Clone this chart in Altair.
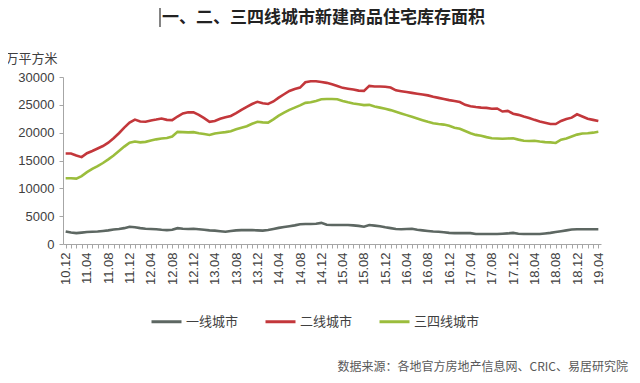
import altair as alt
import pandas as pd

months = [
    "10.12",
    "11.01", "11.02", "11.03", "11.04", "11.05", "11.06", "11.07", "11.08", "11.09", "11.10", "11.11", "11.12",
    "12.01", "12.02", "12.03", "12.04", "12.05", "12.06", "12.07", "12.08", "12.09", "12.10", "12.11", "12.12",
    "13.01", "13.02", "13.03", "13.04", "13.05", "13.06", "13.07", "13.08", "13.09", "13.10", "13.11", "13.12",
    "14.01", "14.02", "14.03", "14.04", "14.05", "14.06", "14.07", "14.08", "14.09", "14.10", "14.11", "14.12",
    "15.01", "15.02", "15.03", "15.04", "15.05", "15.06", "15.07", "15.08", "15.09", "15.10", "15.11", "15.12",
    "16.01", "16.02", "16.03", "16.04", "16.05", "16.06", "16.07", "16.08", "16.09", "16.10", "16.11", "16.12",
    "17.01", "17.02", "17.03", "17.04", "17.05", "17.06", "17.07", "17.08", "17.09", "17.10", "17.11", "17.12",
    "18.01", "18.02", "18.03", "18.04", "18.05", "18.06", "18.07", "18.08", "18.09", "18.10", "18.11", "18.12",
    "19.01", "19.02", "19.03", "19.04",
]

tier1 = [
    2250, 2050, 1950, 2050, 2150, 2200, 2250, 2350, 2450, 2600,
    2700, 2850, 3100, 3000, 2850, 2750, 2700, 2650, 2550, 2500,
    2550, 2850, 2750, 2700, 2750, 2650, 2550, 2450, 2400, 2300,
    2200, 2350, 2450, 2500, 2500, 2500, 2450, 2400, 2500, 2700,
    2900, 3050, 3200, 3350, 3550, 3600, 3600, 3650, 3800, 3450,
    3400, 3400, 3400, 3400, 3350, 3250, 3100, 3400, 3300, 3200,
    3000, 2850, 2700, 2650, 2700, 2750, 2550, 2450, 2350, 2250,
    2200, 2100, 2000, 1950, 1950, 1950, 1950, 1800, 1800, 1800,
    1800, 1800, 1850, 1900, 2000, 1850, 1800, 1800, 1800, 1800,
    1900, 2000, 2150, 2300, 2450, 2600, 2650, 2650, 2650, 2650,
    2650,
]

tier2 = [
    16250, 16250, 15900, 15600, 16300, 16700, 17150, 17600, 18200, 19000,
    19900, 20900, 21800, 22350, 22000, 21950, 22200, 22350, 22550, 22300,
    22250, 22900, 23450, 23650, 23650, 23200, 22600, 21950, 22100, 22500,
    22750, 23000, 23500, 24100, 24650, 25150, 25550, 25300, 25150, 25600,
    26300, 26900, 27500, 27850, 28100, 29050, 29250, 29250, 29100, 28950,
    28700, 28400, 28050, 27900, 27750, 27550, 27500, 28400, 28300, 28300,
    28250, 28100, 27600, 27450, 27300, 27150, 27000, 26850, 26700, 26450,
    26250, 26050, 25850, 25700, 25500, 25000, 24750, 24600, 24500, 24450,
    24300, 24350, 23800, 23900, 23400, 23200, 22900, 22650, 22300, 22000,
    21800, 21550, 21550, 22100, 22450, 22700, 23300, 22900, 22500, 22300,
    22100,
]

tier34 = [
    11800, 11800, 11750, 12200, 12900, 13500, 14000, 14550, 15200, 15900,
    16700, 17500, 18200, 18400, 18250, 18350, 18600, 18800, 18950, 19050,
    19300, 20150, 20100, 20050, 20100, 19900, 19750, 19580, 19850, 20000,
    20100, 20250, 20600, 20900, 21150, 21600, 21950, 21850, 21800, 22400,
    23050, 23600, 24100, 24500, 24900, 25350, 25450, 25700, 26000, 26050,
    26050, 26000, 25700, 25450, 25250, 25100, 24950, 25000, 24700, 24500,
    24300, 24050, 23750, 23450, 23150, 22850, 22550, 22250, 21950, 21700,
    21550, 21450, 21250, 20900, 20700, 20300, 19900, 19600, 19450, 19200,
    19000, 18950, 18900, 18950, 19000, 18750, 18550, 18500, 18550, 18400,
    18300, 18250, 18150, 18750, 18950, 19300, 19650, 19850, 19900, 20000,
    20150,
]

series_names = ["一线城市", "二线城市", "三四线城市"]
series_colors = ["#5d6762", "#c3373b", "#9bbd3c"]
y_ticks = [0, 5000, 10000, 15000, 20000, 25000, 30000]
title_text = "一、二、三四线城市新建商品住宅库存面积"
unit_text = "万平方米"
source_text = "数据来源：各地官方房地产信息网、CRIC、易居研究院"

rows = []
for name, vals in zip(series_names, [tier1, tier2, tier34]):
    for m, v in zip(months, vals):
        rows.append({"month": m, "series": name, "value": v})
df = pd.DataFrame(rows)

cjk = "Noto Sans CJK SC"
lat = "Liberation Sans"
axis_gray = "#a6a6a6"
text_gray = "#404040"

label_expr = "indexof(['04','08','12'], slice(datum.value, 3)) >= 0 ? datum.value : ''"

lines = alt.Chart(df).mark_line(strokeWidth=2.6).encode(
    x=alt.X(
        "month:O",
        sort=months,
        scale=alt.Scale(type="point", padding=0.5),
        axis=alt.Axis(
            title=None, labelAngle=-90, labelExpr=label_expr, labelOverlap=False,
            labelFont=lat, labelFontSize=13, labelColor=text_gray, labelPadding=4,
            tickSize=4, tickColor=axis_gray, domainColor=axis_gray, grid=False,
        ),
    ),
    y=alt.Y(
        "value:Q",
        scale=alt.Scale(domain=[0, 30000], nice=False),
        axis=alt.Axis(
            values=y_ticks, format="d", title=unit_text, titleAngle=0, titleX=-58, titleY=-19,
            titleAlign="left", titleBaseline="middle", titleFont=cjk, titleFontSize=13,
            titleFontWeight="normal", titleColor=text_gray,
            labelFont=lat, labelFontSize=13, labelColor=text_gray, labelPadding=5,
            tickSize=4, tickColor=axis_gray, domainColor=axis_gray, grid=False,
        ),
    ),
    color=alt.Color(
        "series:N",
        sort=series_names,
        scale=alt.Scale(domain=series_names, range=series_colors),
        legend=alt.Legend(
            title=None, orient="none", legendX=87, legendY=228, direction="horizontal",
            symbolType="stroke", symbolStrokeWidth=3, symbolSize=900,
            labelFont=cjk, labelFontSize=13, labelColor=text_gray, labelOffset=3,
            columnPadding=20,
        ),
    ),
)

title_chart = alt.Chart(pd.DataFrame({"t": [title_text]})).mark_text(
    font=cjk, fontSize=17, fontWeight="bold", color="#222222", align="left", baseline="middle"
).encode(x=alt.value(99), y=alt.value(-59), text="t:N")

bar_rule = alt.Chart(pd.DataFrame({"k": [0]})).mark_rule(color="#333333", strokeWidth=1.2).encode(
    x=alt.value(97), y=alt.value(-77), y2=alt.value(-50)
)

source_chart = alt.Chart(pd.DataFrame({"t": [source_text]})).mark_text(
    font=cjk, fontSize=12, color="#595959", align="right", baseline="middle"
).encode(x=alt.value(565), y=alt.value(290), text="t:N")

chart = alt.layer(lines, title_chart, bar_rule, source_chart).properties(
    width=538,
    height=167,
    padding={"left": 55, "top": 69, "right": 31, "bottom": 131},
    autosize=alt.AutoSizeParams(type="none"),
).configure_view(stroke=None)

chart.save("out.html", embed_options={"renderer": "svg", "actions": False})
